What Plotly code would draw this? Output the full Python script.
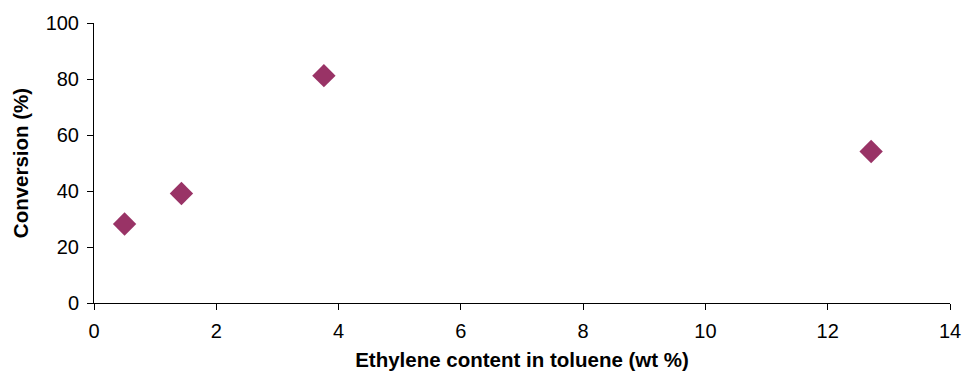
import plotly.graph_objects as go

ethylene_wt = [0.5, 1.43, 3.76, 12.71]
conversion = [28.2, 39.1, 81.2, 54.1]
x_ticks = [0, 2, 4, 6, 8, 10, 12, 14]
y_ticks = [0, 20, 40, 60, 80, 100]

fig = go.Figure()
fig.add_trace(go.Scatter(
    x=ethylene_wt, y=conversion, mode="markers",
    marker=dict(symbol="diamond", size=18, color="#993366", line=dict(width=0)),
    showlegend=False,
))

font = "Liberation Sans, Arial, sans-serif"
fig.update_layout(
    width=964, height=372,
    margin=dict(l=94, r=14, t=23, b=69),
    paper_bgcolor="white", plot_bgcolor="white",
    font=dict(family=font, size=20, color="black"),
)
fig.update_xaxes(
    range=[0, 14], tickvals=x_ticks, showgrid=False, zeroline=False,
    showline=True, linecolor="black", linewidth=1, automargin=False,
    ticks="outside", ticklen=6, tickcolor="black", ticklabelstandoff=4,
    title=dict(text="<b>Ethylene content in toluene (wt %)</b>", font=dict(size=20.5), standoff=11),
)
fig.update_yaxes(
    range=[0, 100], tickvals=y_ticks, showgrid=False, zeroline=False,
    showline=True, linecolor="black", linewidth=1, automargin=False,
    ticks="outside", ticklen=6, tickcolor="black", ticklabelstandoff=4,
    title=dict(text="<b>Conversion (%)</b>", font=dict(size=20.5), standoff=11),
)
fig.write_html(
    "out.html",
    config={"displayModeBar": False},
    post_script="document.body.style.margin='0';",
)
